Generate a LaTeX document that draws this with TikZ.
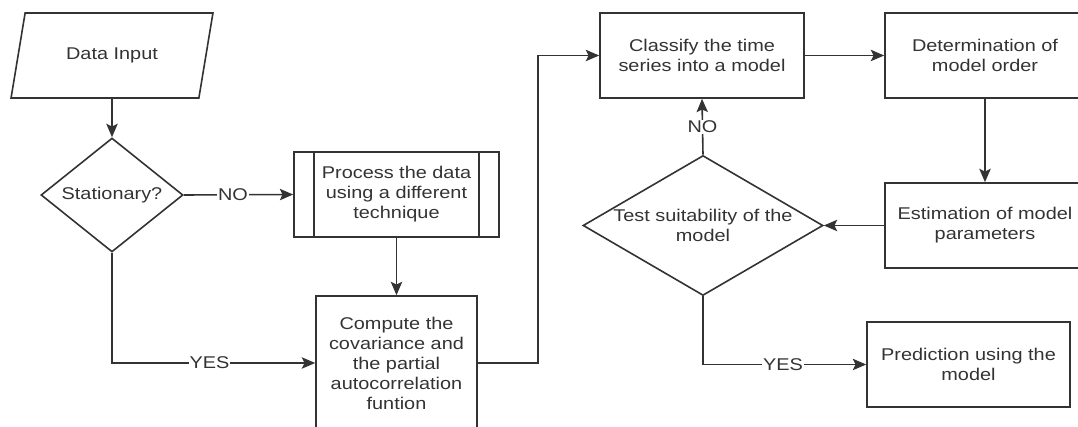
\documentclass[tikz,border=0pt]{standalone}
\usepackage{fontspec}
\setmainfont{Liberation Sans}[FakeStretch=1.17]
\usepackage{tikz}
\usetikzlibrary{positioning,shapes.geometric,arrows.meta,calc}
\definecolor{mygray}{RGB}{51,51,51}
\newlength{\pxl}
\setlength{\pxl}{0.75pt}

\begin{document}
\begin{tikzpicture}[x=0.75pt,y=-0.75pt,
  font=\fontsize{12.75}{15}\selectfont,
  box/.style={draw=mygray,line width=1.2pt,rectangle,minimum width=204\pxl,
    minimum height=85\pxl,inner sep=0pt,align=center,text=mygray},
  iobox/.style={draw=mygray,line width=1.2pt,trapezium,trapezium stretches=true,
    trapezium left angle=64,trapezium right angle=116,minimum width=202\pxl,
    minimum height=85\pxl,inner sep=0pt,text=mygray},
  decision/.style={draw=mygray,line width=1.2pt,diamond,inner sep=0pt},
  dtext/.style={text=mygray,align=center},
  flow/.style={draw=mygray,line width=1.2pt,-{Stealth[length=10pt,width=8.5pt,inset=2pt]}},
  lbl/.style={fill=white,inner sep=1\pxl,text=mygray}
]
\useasboundingbox (0,0) rectangle (1078,427);

% left column
\node[iobox] (data) at (112,55.5) {Data Input};
\node[decision,minimum width=142\pxl,minimum height=114\pxl,
  label={[dtext]center:Stationary?}] (stat) at (112,195) {};
\node[box,minimum width=205\pxl] (proc) at (396.5,194.5)
  {Process the data\\using a different\\technique};
\draw[mygray,line width=1.2pt] ([xshift=21\pxl]proc.north west) -- ([xshift=21\pxl]proc.south west);
\draw[mygray,line width=1.2pt] ([xshift=-21\pxl]proc.north east) -- ([xshift=-21\pxl]proc.south east);
\node[box,minimum width=161\pxl,minimum height=134\pxl] (comp) at (396.5,363)
  {Compute the\\covariance and\\the partial\\autocorrelation\\funtion};

% right part
\node[box] (class) at (702,55.5) {Classify the time\\series into a model};
\node[box,minimum width=200\pxl] (det) at (985,55.5) {Determination of\\model order};
\node[box,minimum width=200\pxl] (est) at (985,225.5) {Estimation of model\\parameters};
\node[decision,minimum width=240\pxl,minimum height=140\pxl,
  label={[dtext]center:Test suitability of the\\model}] (test) at (703,225.5) {};
\node[box,minimum width=203\pxl] (pred) at (968.5,364.5) {Prediction using the\\model};
\coordinate (up) at (538,55.5);

% the edges
\draw[flow] (data.south) -- (stat.north);
\draw[flow] (stat.east) -- node[lbl,pos=0.45] {NO} (proc.west);
\draw[flow] (proc.south) -- (comp.north);
\draw[flow] (stat.south) |- node[lbl,pos=0.74] {YES} (comp.west);
\draw[flow] (comp.east) -| (up) -- (class.west);
\draw[flow] (class.east) -- (det.west);
\draw[flow] (det.south) -- (est.north);
\draw[flow] (est.west) -- (test.east);
\draw[flow] (test.north) -- node[lbl] {NO} (class.south);
\draw[flow] (test.south) |- node[lbl,pos=0.745] {YES} (pred.west);
\end{tikzpicture}
\end{document}
